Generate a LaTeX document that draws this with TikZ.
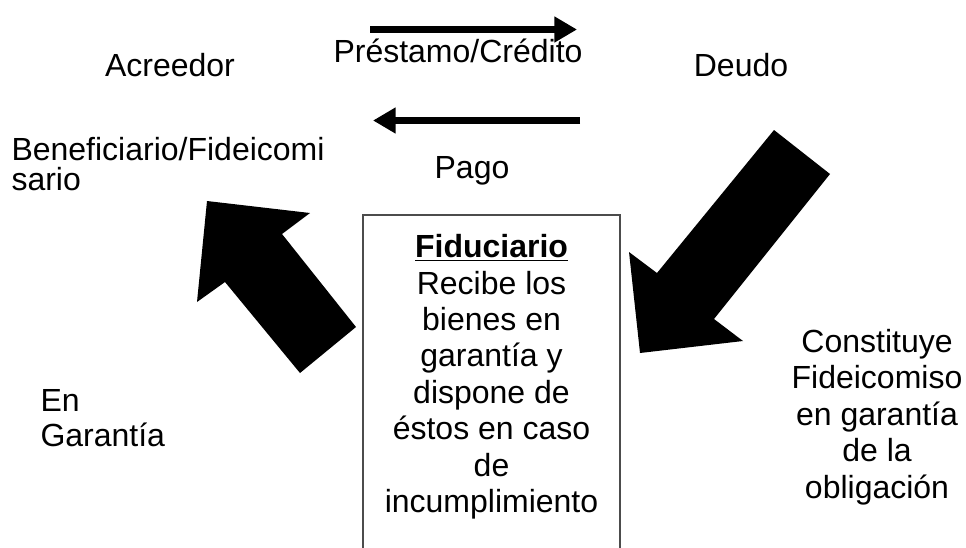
\documentclass[tikz,border=0pt]{standalone}
\usepackage{fontspec}
\setmainfont{Liberation Sans}
\usetikzlibrary{arrows.meta}
\tikzset{every picture/.style={line width=0.75pt}}
\tikzset{
  bigtxt/.style={inner sep=0pt,font=\fontsize{24}{26.25}\selectfont},
  boxtxt/.style={inner sep=0pt,font=\fontsize{24}{27.3}\selectfont},
  sidetxt/.style={inner sep=0pt,font=\fontsize{24}{27.4}\selectfont},
  bentxt/.style={inner sep=0pt,font={\fontsize{24}{22.5}\selectfont\setlength{\lineskiplimit}{-20pt}}},
  flecha/.style={line width=5.25pt,-{Triangle[length=17pt,width=18.5pt]}},
  bloque/.style={fill=black,draw=none}
}

\begin{document}
\begin{tikzpicture}[x=0.75pt,y=0.75pt,yscale=-1,xscale=1]
\useasboundingbox (0,0) rectangle (966,547);
% caja del fiduciario (abierta abajo)
\draw [black!70,line width=1.1pt] (363,560) -- (363,215) -- (620,215) -- (620,560) ;
\draw (491.5,234) node (fid) [anchor=north][boxtxt][align=center] {\textbf{\underline{Fiduciario}}\\Recibe los\\bienes en\\garantía y\\dispone de\\éstos en caso\\de\\incumplimiento};
% textos
\draw (170,76) node (acr) [anchor=base][bigtxt] {Acreedor};
\draw (458,62) node (pres) [anchor=base][bigtxt] {Préstamo/Crédito};
\draw (741,76) node (deu) [anchor=base][bigtxt] {Deudo};
\draw (472,178) node (pago) [anchor=base][bigtxt] {Pago};
\draw (11,136.5) node (benef) [anchor=north west][bentxt][align=left] {Beneficiario/Fideicomi\\sario};
\draw (40,389) node (garan) [anchor=north west][bigtxt][align=left] {En\\Garantía};
\draw (877,328.5) node (const) [anchor=north][sidetxt][align=center] {Constituye\\Fideicomiso\\en garantía\\de la\\obligación};
% flechas finas
\coordinate (pr1) at (370,29.5);
\coordinate (pr2) at (577,29.5);
\coordinate (pg1) at (580,120.5);
\coordinate (pg2) at (373,120.5);
\draw [flecha] (pr1) -- (pr2) ;
\draw [flecha] (pg1) -- (pg2) ;
% flechas gruesas
\fill [bloque] (207,201) -- (310,213) -- (282,234) -- (356,327) -- (300,373) -- (225,282) -- (197,302) -- cycle ;
\fill [bloque] (640,353) -- (629,252) -- (657,273) -- (774,130) -- (830,174) -- (714,319) -- (743,341) -- cycle ;
\end{tikzpicture}
\end{document}
